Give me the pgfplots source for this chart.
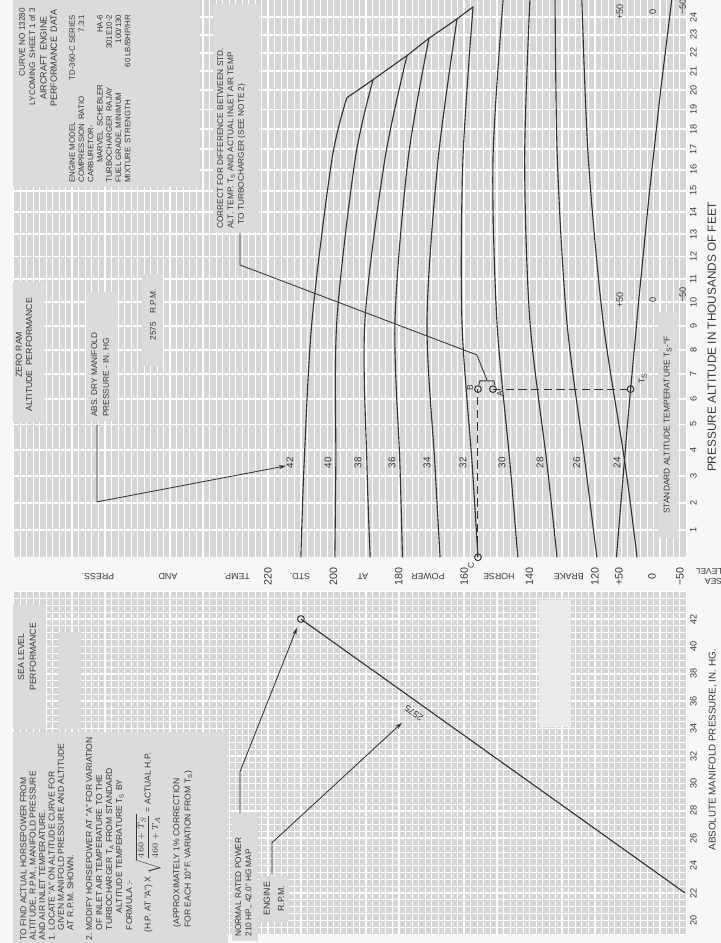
\documentclass[border=0pt]{standalone}
\usepackage{fontspec}
\setmainfont{Liberation Sans}
\usepackage{pgfplots}
\pgfplotsset{compat=1.18}
\usetikzlibrary{arrows.meta}

\definecolor{pagebg}{gray}{0.97}
\definecolor{paper}{gray}{0.84}
\definecolor{boxgray}{gray}{0.86}
\definecolor{lightbox}{gray}{0.92}
\definecolor{ink}{gray}{0.22}

% altitude scale of the chart is not linear: it closes up with height
\pgfplotsset{
  altscale/.style={y coord trafo/.code={\pgfmathparse{27.64*##1-0.214*##1*##1}}},
  chart/.style={
    scale only axis, width=16.825cm,
    xmin=92, xmax=298, x dir=reverse,
    axis line style={draw=none},
    tick style={draw=none},
    axis background/.style={fill=paper},
    grid=both,
    major grid style={white, line width=1.1pt},
    minor grid style={white, line width=0.55pt},
    xtick={100,110,...,290},
    minor xtick={92,94,...,298},
    xticklabels={}, yticklabels={},
    clip=false,
  },
  curve/.style={no marks, draw=black!80, line width=0.8pt},
  ring/.style={only marks, mark=o, mark size=2.4pt, mark options={draw=black!80, line width=0.7pt}},
}
\tikzset{sidelbl/.style={rotate=90, anchor=north, text=ink, inner sep=2.5pt, font=\fontsize{6.5}{7}\selectfont}}

\begin{document}
\begin{tikzpicture}
\path[use as bounding box] (0,0) rectangle (18.025,-23.575);
\fill[pagebg] (0,0) rectangle (18.025,-23.575);

% ---------------- altitude performance (upper part) ----------------
\begin{axis}[chart, altscale,
  at={(0.335cm,-13.93125cm)}, anchor=south west, height=13.93125cm,
  ymin=0, ymax=25, ytick={1,...,24}]

% manifold pressure curves, hp against altitude (1000 ft)
\addplot[curve, smooth] coordinates {(210,0) (209,3.5) (206.6,9.2) (200.5,16.5) (195.9,19.6)};    % 42
\addplot[curve, smooth] coordinates {(199.6,0) (199.3,3.5) (199,9.2) (193.4,16.5) (187.9,20.55)}; % 40
\addplot[curve, smooth] coordinates {(188.8,0) (189.8,3.5) (190.4,9.2) (184.3,16.5) (177.5,21.85)}; % 38
\addplot[curve, smooth] coordinates {(178.9,0) (179.7,3.5) (181.2,9.2) (177.2,16.5) (170.8,22.8)}; % 36
\addplot[curve, smooth] coordinates {(167.4,0) (169,3.5) (171.4,9.2) (168,16.5) (162.2,23.9)};    % 34
\addplot[curve, smooth] coordinates {(155.8,0) (157.6,3.5) (160.7,9.2) (160.4,16.5) (157.3,24.6)}; % 32
\addplot[curve, smooth] coordinates {(143.6,0) (146,3.5) (150,9.2) (151.2,16.5) (148.1,25)};      % 30
\addplot[curve, smooth] coordinates {(131.6,0) (134.7,3.5) (139.9,9.2) (141.5,16.5) (139.9,25)};  % 28
\addplot[curve, smooth] coordinates {(119.4,0) (123,3.5) (128.6,9.2) (131.5,16.5) (132.2,25)};    % 26
\addplot[curve, smooth] coordinates {(107.1,0) (110.8,3.5) (117.5,9.2) (122,16.5) (124,25)};      % 24

% critical altitude line
\addplot[curve] coordinates {(195.9,19.6) (187.9,20.55) (177.5,21.85) (170.8,22.8) (162.2,23.9) (157.3,24.6)};

% worked example
\addplot[no marks, draw=black!80, line width=0.7pt, dash pattern=on 6pt off 3pt] coordinates {(155.8,0) (155.8,6.4)};
\addplot[no marks, draw=black!80, line width=0.7pt, dash pattern=on 6pt off 3pt] coordinates {(151.2,6.4) (109.3,6.4)};
\addplot[ring] coordinates {(155.8,0) (155.8,6.4) (151.2,6.4)};

\pgfplotsinvokeforeach{1,2,3,4,5,6,7,8,9,10,11,12,13,14,15,16,17,18,19,20,21,22,23,24}{
  \node[sidelbl] at (axis cs:92,#1) {#1};
}
\end{axis}

% standard altitude temperature, own scale (deg F) over the same area
\begin{axis}[altscale, scale only axis, hide axis, clip=false,
  at={(0.335cm,-13.93125cm)}, anchor=south west,
  width=16.825cm, height=13.93125cm,
  xmin=-53.9, xmax=1031.6, x dir=reverse, ymin=0, ymax=25]
\addplot[curve] coordinates {(59,0) (41.2,5) (23.3,10) (5.5,15) (-12.4,20) (-30.2,25)};
\addplot[ring] coordinates {(36.2,6.4)};
\end{axis}

% ---------------- sea level performance (lower part) ----------------
\begin{axis}[chart,
  at={(0.335cm,-23.3525cm)}, anchor=south west, height=8.5625cm,
  ymin=19, ymax=44, ytick={20,22,...,42}, minor ytick={19,19.5,...,44}]
\addplot[curve] coordinates {(92.4,22) (210,42)};
\addplot[ring] coordinates {(210,42)};
\pgfplotsinvokeforeach{20,22,24,26,28,30,32,34,36,38,40,42}{
  \node[sidelbl] at (axis cs:92,#1) {#1};
}
\end{axis}

% ---------------- lettering, boxes and leaders (page pixels) ----------------
\begin{scope}[x=0.025cm, y=-0.025cm,
  rt/.style={rotate=90, text=ink, inner sep=0pt},
  ud/.style={rotate=180, text=ink, inner sep=0pt},
  lead/.style={draw=black!80, line width=0.6pt},
  tip/.style={-{Stealth[length=5pt, width=3pt]}}]

\fill[boxgray] (13,0) rectangle (200,187);
\fill[boxgray] (213,4) rectangle (260,232);
\fill[boxgray] (13,282) rectangle (44,422);
\fill[boxgray] (87,292) rectangle (117,421);
\fill[boxgray] (142,274) rectangle (163,366);
\fill[boxgray] (658,312) rectangle (678,538);
\fill[boxgray] (13,605) rectangle (46,729);
\fill[boxgray] (58,632) rectangle (81,729);
\fill[boxgray] (13,732) rectangle (228,943);
\fill[boxgray] (232,812) rectangle (258,941);
\fill[boxgray] (259,876) rectangle (289,922);
\fill[lightbox] (539,600) rectangle (571,727);

% title block
\node[rt, anchor=north east, align=right, font=\fontsize{5.8}{7.3}\selectfont] at (19,8)
  {CURVE NO 13280\\LYCOMING\enspace SHEET 1 of 3};
\node[rt, anchor=north, align=center, font=\fontsize{6.4}{7.4}\selectfont] at (40,58)
  {AIRCRAFT\enspace ENGINE\\PERFORMANCE\enspace DATA};
\node[rt, anchor=north west, font=\fontsize{5.6}{6.6}\selectfont] at (68,183)
  {\begin{tabular}{@{}l@{\enspace}r@{}}
   ENGINE MODEL & TD-360-C SERIES\\
   COMPRESSION\enspace RATIO & 7.3:1\\
   CARBURETOR- & \\
   \hspace{14pt}MARVEL\enspace SCHEBLER & HA-6\\
   TURBOCHARGER\enspace RAJAY & 301E10-2\\
   FUEL GRADE, MINIMUM & 100/130\\
   MIXTURE\enspace STRENGTH & 60 LB/BHP/HR
   \end{tabular}};

\node[rt, anchor=north west, align=left, font=\fontsize{5.9}{7.4}\selectfont] at (217,229)
  {CORRECT FOR DIFFERENCE BETWEEN STD.\\ALT. TEMP. T\textsubscript{S} AND ACTUAL INLET AIR TEMP\\\enspace TO TURBOCHARGER (SEE NOTE 2)};
\node[rt, align=center, font=\fontsize{6.2}{7.4}\selectfont] at (24,355) {ZERO RAM\\ALTITUDE\enspace PERFORMANCE};
\node[rt, anchor=north west, align=left, font=\fontsize{5.9}{8.5}\selectfont] at (91,417) {ABS. DRY MANIFOLD\\PRESSURE - IN. HG};
\node[rt, font=\fontsize{5.9}{7}\selectfont] at (153,315) {2575\quad R.P.M.};
\node[rt, font=\fontsize{6}{7}\selectfont] at (668,425) {STANDARD ALTITUDE TEMPERATURE T\textsubscript{S}-°F};
\node[rt, font=\fontsize{8.4}{9}\selectfont] at (712,337) {PRESSURE ALTITUDE IN THOUSANDS OF FEET};
\node[rt, font=\fontsize{7}{8}\selectfont] at (713,750) {ABSOLUTE MANIFOLD PRESSURE, IN. HG.};

% manifold pressure labels on the curves
\foreach \v/\px in {42/290,40/328,38/358,36/392,34/427,32/463,30/502,28/540,26/577,24/617}
  \node[rt, font=\fontsize{7}{8}\selectfont] at (\px,463) {\v};

% point labels
\node[rt, font=\fontsize{6}{7}\selectfont] at (470,388) {B};
\node[rt, font=\fontsize{6}{7}\selectfont] at (500,394) {A};
\node[rt, font=\fontsize{6}{7}\selectfont] at (471,566) {C};
\node[rt, font=\fontsize{6}{7}\selectfont] at (643,378) {T\textsubscript{S}};

% scale row between the two charts
\foreach \v/\px in {220/268,200/333.6,180/398.9,160/464.3,140/529.6,120/595,+50/619,0/652}
  \node[rt, font=\fontsize{7.6}{8}\selectfont] at (\px,577) {\v};
\node[rt, font=\fontsize{7.6}{8}\selectfont] at (680,577) {−50};
\foreach \w/\px in {PRESS./98,AND/168,TEMP./237,STD./300,AT/363,POWER/428,HORSE/499,BRAKE/569}
  \node[ud, font=\fontsize{6.3}{7}\selectfont] at (\px,577) {\w};
\node[ud, align=left, font=\fontsize{6}{7}\selectfont] at (709,577) {SEA\\LEVEL};

% temperature scale marks higher up
\foreach \yy in {300,12} {
  \node[rt, font=\fontsize{6.5}{7}\selectfont] at (620,\yy) {+50};
  \node[rt, font=\fontsize{6.5}{7}\selectfont] at (653,\yy) {0};
  \node[rt, font=\fontsize{6.5}{7}\selectfont] at (683,\yy-5) {−50};
}

% notes
\node[rt, anchor=north west, align=left, font=\fontsize{6.1}{6.7}\selectfont] at (20,941)
  {TO FIND ACTUAL HORSEPOWER FROM\\ALTITUDE, R.P.M., MANIFOLD PRESSURE\\AND AIR INLET TEMPERATURE.\\
   1. LOCATE "A" ON ALTITUDE CURVE FOR\\\phantom{1. }GIVEN MANIFOLD PRESSURE AND ALTITUDE\\\phantom{1. }AT R.P.M. SHOWN.};
\node[rt, anchor=north west, align=left, font=\fontsize{6.1}{7.1}\selectfont] at (86,941)
  {2. MODIFY HORSEPOWER AT "A" FOR VARIATION\\\phantom{2. }OF INLET AIR TEMPERATURE TO THE\\
   \phantom{2. }TURBOCHARGER T\textsubscript{A} FROM STANDARD\\\phantom{2. }\qquad ALTITUDE TEMPERATURE T\textsubscript{S} BY\\
   \phantom{2. }FORMULA :-};
\node[rt, anchor=west, font=\fontsize{6.1}{7}\selectfont] at (148,933)
  {(H.P. AT "A") X $\sqrt{\displaystyle\frac{460+T_S}{460+T_A}}$ = ACTUAL H.P.};
\node[rt, anchor=north west, align=left, font=\fontsize{6.1}{8}\selectfont] at (173,928)
  {(APPROXIMATELY 1\% CORRECTION\\FOR EACH 10°F. VARIATION FROM T\textsubscript{S})};

\node[rt, align=center, font=\fontsize{6.2}{8.5}\selectfont] at (27,657) {SEA LEVEL\\PERFORMANCE};
\node[rt, anchor=north west, align=left, font=\fontsize{5.9}{7.3}\selectfont] at (235,937)
  {NORMAL RATED POWER\\210 HP., 42.0" HG MAP};
\node[rt, align=center, font=\fontsize{6.3}{10}\selectfont] at (274,899) {ENGINE\\R.P.M.};
\node[rotate=144.7, text=ink, font=\fontsize{6.5}{7}\selectfont] at (414,713) {2575};

% leaders
\draw[lead, tip] (97,425) -- (97,502) -- (286,466);
\draw[lead, tip] (240,813) -- (240,772) -- (297,628);
\draw[lead, tip] (272,874) -- (272,843) -- (402,723);
\draw[lead] (240,233) -- (240,265) -- (477,355) -- (487,380);
\draw[lead] (479,385) -- (480,381) -- (494,381) -- (495,385);
\end{scope}
\end{tikzpicture}
\end{document}
